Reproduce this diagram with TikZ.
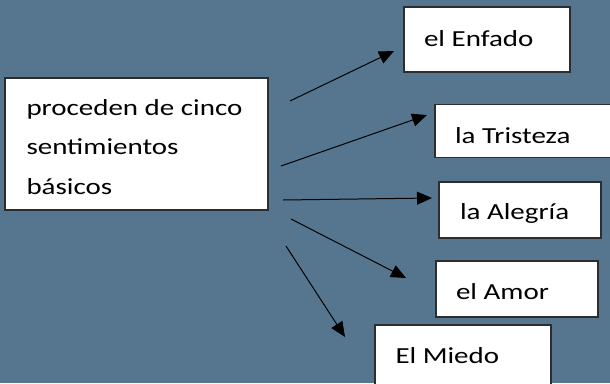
\documentclass[tikz,border=0pt]{standalone}
\usepackage{fontspec}
\usetikzlibrary{arrows.meta}
\newfontfamily\calwide[FakeStretch=1.26]{Carlito}
\definecolor{bgblue}{RGB}{86,118,144}
\definecolor{boxline}{RGB}{45,45,45}
\tikzset{
  box/.style={draw=boxline, line width=1.2pt, fill=white, anchor=north west, inner sep=0pt, outer sep=0pt},
  txt/.style={font=\calwide\fontsize{23}{39.5}\selectfont, text=black, inner sep=0pt, outer sep=0pt},
  arr/.style={draw=black, line width=1pt, -{Triangle[length=15pt,width=13pt]}}
}
\begin{document}
\begin{tikzpicture}[x=1pt,y=-1pt]
\useasboundingbox (0,0) rectangle (610,383);
\clip (0,0) rectangle (610,383);
\fill[bgblue] (0,0) rectangle (610,383);
% boxes
\node[box, minimum width=263pt, minimum height=132pt] (main) at (5,78) {};
\node[box, minimum width=166pt, minimum height=65pt] (enfado) at (404,7) {};
\node[box, minimum width=180pt, minimum height=53pt] (tristeza) at (435,104.5) {};
\node[box, minimum width=162pt, minimum height=56pt] (alegria) at (439,182) {};
\node[box, minimum width=162pt, minimum height=56pt] (amor) at (436,261) {};
\node[box, minimum width=176pt, minimum height=67pt] (miedo) at (375,325) {};
% texts
\node[txt, align=left, anchor=base west] (maint) at (26.5,194) {proceden de cinco\\sentimientos\\básicos};
\node[txt, anchor=base west] (enfadot) at (424,46.7) {el Enfado};
\node[txt, anchor=base west] (tristezat) at (455,143.5) {la Tristeza};
\node[txt, anchor=base west] (alegriat) at (460,219) {la Alegría};
\node[txt, anchor=base west] (amort) at (456,299) {el Amor};
\node[txt, anchor=base west] (miedot) at (395.5,363.3) {El Miedo};
% arrow end points
\coordinate (s1) at (290,101);
\coordinate (e1) at (394,51);
\coordinate (s2) at (281,166);
\coordinate (e2) at (427,115);
\coordinate (s3) at (283,200);
\coordinate (e3) at (432,198);
\coordinate (s4) at (291,219);
\coordinate (e4) at (406,278);
\coordinate (s5) at (286,246);
\coordinate (e5) at (345,337);
\draw[arr] (s1) -- (e1);
\draw[arr] (s2) -- (e2);
\draw[arr] (s3) -- (e3);
\draw[arr] (s4) -- (e4);
\draw[arr] (s5) -- (e5);
\end{tikzpicture}
\end{document}
